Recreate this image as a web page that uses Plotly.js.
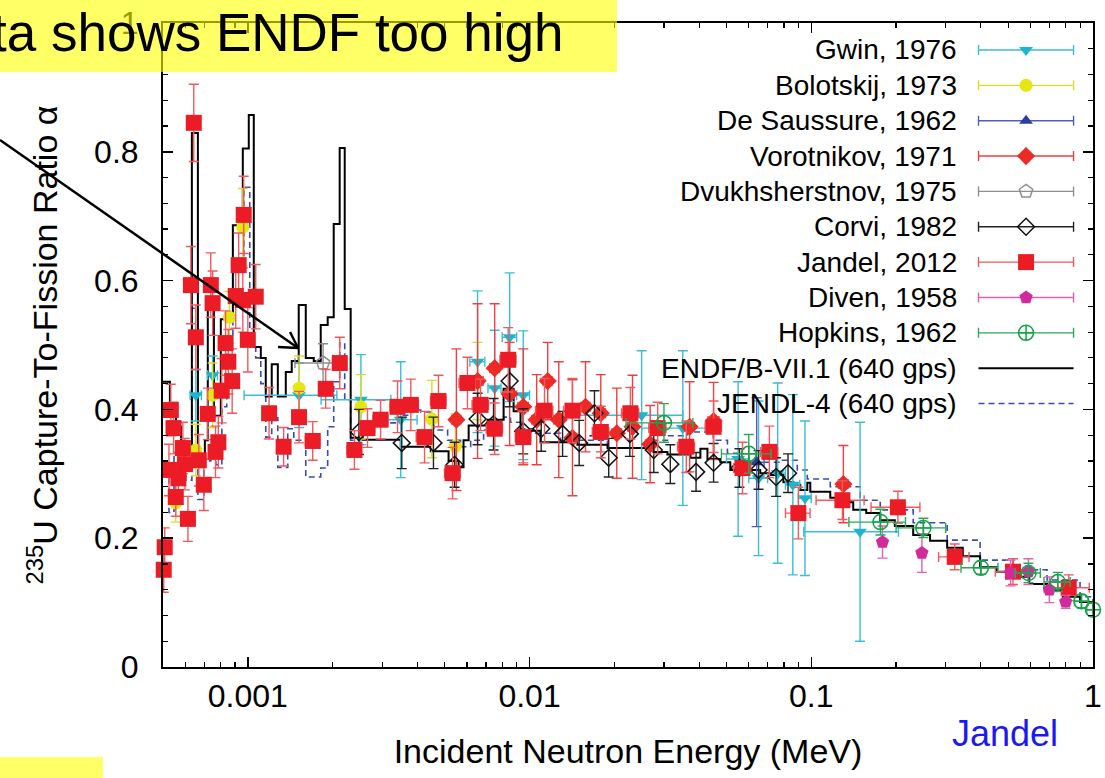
<!DOCTYPE html>
<html>
<head>
<meta charset="utf-8">
<script src="https://cdn.plot.ly/plotly-3.0.1.min.js"></script>
<style>html,body{margin:0;padding:0;background:#fff;}#chart{width:1105px;height:778px;}</style>
</head>
<body>
<div id="chart"></div>
<script>
// ---------- data (energy in MeV, capture-to-fission ratio alpha) ----------
const legendNames = ["Gwin, 1976","Bolotskij, 1973","De Saussure, 1962","Vorotnikov, 1971","Dvukhsherstnov, 1975","Corvi, 1982","Jandel, 2012","Diven, 1958","Hopkins, 1962","ENDF/B-VII.1 (640 gps)","JENDL-4 (640 gps)"];
const xTickVals = [0.001, 0.01, 0.1, 1];
const xTickText = ["0.001", "0.01", "0.1", "1"];
const xMinorVals = [6e-4,7e-4,8e-4,9e-4,2e-3,3e-3,4e-3,5e-3,6e-3,7e-3,8e-3,9e-3,0.02,0.03,0.04,0.05,0.06,0.07,0.08,0.09,0.2,0.3,0.4,0.5,0.6,0.7,0.8,0.9];

const endfE = [5.0e-4,5.29e-4,5.56e-4,5.79e-4,6.08e-4,6.33e-4,6.65e-4,7.04e-4,7.21e-4,7.58e-4,8.02e-4,8.35e-4,8.85e-4,9.60e-4,1.008e-3,1.050e-3,1.112e-3,1.158e-3,1.216e-3,1.278e-3,1.364e-3,1.432e-3,1.516e-3,1.606e-3,1.714e-3,1.815e-3,1.921e-3,2.018e-3,2.119e-3,2.208e-3,2.318e-3,2.557e-3,3.49e-3,4.46e-3,5.16e-3,5.60e-3,5.83e-3,6.08e-3,7.10e-3,8.09e-3,8.78e-3,9.29e-3,1.094e-2,1.479e-2,1.891e-2,2.753e-2,3.086e-2,3.724e-2,4.04e-2,4.28e-2,4.76e-2,5.16e-2,6.59e-2,7.15e-2,7.96e-2,8.64e-2,9.14e-2,9.68e-2,9.92e-2,0.1168,0.1267,0.1409,0.1567,0.1757,0.198,0.2300,0.264,0.3036,0.345,0.3975,0.456,0.5204,0.594,0.6869,0.781,0.8994,1.0];
const endfA = [0.443,0.399,0.373,0.349,0.334,0.829,0.320,0.352,0.560,0.390,0.540,0.550,0.686,0.805,0.857,0.497,0.480,0.420,0.470,0.420,0.458,0.475,0.562,0.480,0.475,0.531,0.543,0.688,0.806,0.556,0.356,0.353,0.342,0.335,0.320,0.310,0.352,0.375,0.384,0.432,0.397,0.367,0.349,0.345,0.340,0.334,0.330,0.325,0.339,0.323,0.318,0.306,0.301,0.298,0.287,0.283,0.275,0.286,0.272,0.263,0.256,0.244,0.239,0.228,0.219,0.205,0.196,0.185,0.172,0.155,0.148,0.140,0.129,0.120,0.109,0.101,0.093];

const jendlE = [5.0e-4,5.25e-4,5.47e-4,5.69e-4,6.03e-4,6.33e-4,6.65e-4,6.98e-4,7.39e-4,7.70e-4,8.09e-4,8.42e-4,8.85e-4,9.68e-4,1.016e-3,1.067e-3,1.112e-3,1.158e-3,1.216e-3,1.278e-3,1.386e-3,1.456e-3,1.606e-3,1.815e-3,1.921e-3,2.018e-3,2.119e-3,2.208e-3,2.318e-3,2.475e-3,2.798e-3,3.40e-3,3.78e-3,4.11e-3,4.57e-3,5.12e-3,5.69e-3,6.18e-3,6.87e-3,7.70e-3,8.09e-3,8.56e-3,9.29e-3,1.033e-2,1.288e-2,1.891e-2,2.476e-2,2.753e-2,3.086e-2,3.634e-2,4.28e-2,4.49e-2,5.04e-2,5.47e-2,6.23e-2,7.76e-2,8.92e-2,9.68e-2,0.1168,0.1492,0.1757,0.2300,0.3036,0.3975,0.5204,0.6869,0.8994,1.0];
const jendlA = [0.30,0.24,0.33,0.30,0.29,0.557,0.26,0.32,0.33,0.314,0.404,0.51,0.62,0.745,0.497,0.48,0.44,0.357,0.387,0.31,0.37,0.352,0.295,0.309,0.373,0.443,0.503,0.415,0.352,0.36,0.379,0.391,0.399,0.396,0.368,0.352,0.342,0.352,0.368,0.38,0.388,0.38,0.37,0.363,0.352,0.34,0.34,0.352,0.359,0.365,0.363,0.352,0.332,0.318,0.318,0.321,0.306,0.292,0.28,0.259,0.244,0.224,0.197,0.166,0.151,0.135,0.109,0.101];

const gwinE = [6.54e-4,7.5e-4,1.52e-3,2.52e-3,3.49e-3,6.54e-3,7.52e-3,8.5e-3,9.5e-3,2.5e-2,3.5e-2,5.5e-2,6.5e-2,7.6e-2,8.6e-2,9.5e-2,0.149];
const gwinA = [0.422,0.453,0.422,0.415,0.384,0.474,0.433,0.512,0.422,0.391,0.371,0.323,0.293,0.301,0.283,0.262,0.210];
const gwinErrA = [0.04,0.03,0.05,0.07,0.09,0.11,0.09,0.10,0.10,0.10,0.12,0.12,0.12,0.14,0.14,0.12,0.17];
const gwinErrE = [3e-5,3e-5,5.5e-4,7e-4,5e-4,4e-4,4e-4,5e-4,5e-4,1e-2,1e-2,5e-3,5e-3,5e-3,5e-3,5e-3,0.055];

const bolE = [5.55e-4,6.54e-4,7.5e-4,8.6e-4,9.6e-4,1.52e-3,2.52e-3,4.5e-3,5.46e-3,6.54e-3];
const bolA = [0.255,0.337,0.422,0.543,0.683,0.433,0.404,0.385,0.343,0.444];
const bolErrA = [0.03,0.04,0.05,0.04,0.06,0.05,0.05,0.06,0.05,0.06];

const desE = [6.4e-2];
const desA = [0.318];
const desErrA = [0.10];
const desErrE = [4e-3];

const vorE = [5.5e-3,6.54e-3,7.52e-3,8.5e-3,9.5e-3,1.06e-2,1.16e-2,1.27e-2,1.42e-2,1.58e-2,1.79e-2,2.04e-2,2.32e-2,2.68e-2,3.7e-2,4.5e-2,0.130];
const vorA = [0.384,0.444,0.464,0.424,0.404,0.384,0.444,0.384,0.356,0.404,0.394,0.363,0.373,0.346,0.373,0.382,0.284];
const vorErrA = [0.11,0.12,0.10,0.08,0.09,0.07,0.06,0.09,0.09,0.07,0.06,0.07,0.08,0.06,0.07,0.06,0.06];
const vorErrE = [2e-4,3e-4,3e-4,3e-4,4e-4,4e-4,4e-4,5e-4,5e-4,6e-4,7e-4,8e-4,9e-4,1e-3,1.5e-3,2e-3,5e-3];

const dvuE = [1.85e-3];
const dvuA = [0.472];
const dvuErrA = [0.03];
const dvuErrE = [3.8e-4];

const corE = [2.48e-3,3.52e-3,4.56e-3,5.42e-3,6.54e-3,7.45e-3,8.5e-3,9.5e-3,1.10e-2,1.31e-2,1.50e-2,1.70e-2,1.91e-2,2.27e-2,2.76e-2,3.16e-2,3.9e-2,4.5e-2,5.56e-2,6.5e-2,7.5e-2,8.27e-2];
const corA = [0.365,0.348,0.348,0.314,0.385,0.377,0.444,0.366,0.370,0.362,0.348,0.394,0.325,0.362,0.337,0.315,0.303,0.317,0.309,0.306,0.295,0.301];
const corErrA = [0.035,0.04,0.04,0.035,0.04,0.04,0.04,0.035,0.035,0.035,0.035,0.035,0.03,0.035,0.035,0.03,0.03,0.03,0.03,0.03,0.03,0.03];

const janE = [5.03e-4,5.07e-4,5.25e-4,5.33e-4,5.45e-4,5.55e-4,5.67e-4,5.88e-4,5.98e-4,6.13e-4,6.28e-4,6.43e-4,6.54e-4,6.70e-4,6.98e-4,7.21e-4,7.39e-4,7.50e-4,7.68e-4,7.86e-4,8.08e-4,8.34e-4,8.53e-4,8.80e-4,9.06e-4,9.28e-4,9.67e-4,1.00e-3,9.60e-4,1.067e-3,1.19e-3,1.34e-3,1.52e-3,1.70e-3,1.89e-3,2.12e-3,2.39e-3,2.66e-3,2.96e-3,3.40e-3,3.79e-3,4.24e-3,4.75e-3,5.33e-3,6.02e-3,6.70e-3,7.52e-3,8.40e-3,9.50e-3,1.13e-2,1.42e-2,1.79e-2,2.28e-2,2.85e-2,3.60e-2,4.50e-2,5.70e-2,7.10e-2,9.00e-2,0.129,0.203,0.323,0.52,0.82];
const janA = [0.151,0.186,0.306,0.399,0.371,0.264,0.293,0.340,0.315,0.230,0.593,0.845,0.512,0.321,0.283,0.393,0.593,0.565,0.334,0.349,0.429,0.503,0.474,0.444,0.576,0.624,0.702,0.508,0.570,0.575,0.394,0.342,0.388,0.351,0.432,0.472,0.337,0.371,0.384,0.404,0.407,0.357,0.413,0.301,0.441,0.407,0.370,0.477,0.357,0.398,0.398,0.365,0.394,0.371,0.342,0.373,0.309,0.334,0.239,0.259,0.248,0.171,0.148,0.123];
const janErrA = [0.035,0.03,0.04,0.04,0.04,0.03,0.04,0.04,0.04,0.035,0.06,0.06,0.05,0.04,0.04,0.04,0.05,0.05,0.04,0.04,0.05,0.05,0.05,0.05,0.05,0.05,0.06,0.05,0.05,0.05,0.04,0.03,0.04,0.03,0.03,0.04,0.03,0.03,0.03,0.04,0.04,0.04,0.04,0.04,0.04,0.04,0.04,0.05,0.04,0.05,0.05,0.04,0.04,0.04,0.04,0.04,0.04,0.04,0.04,0.03,0.025,0.02,0.02,0.02];
const janErrE = [2e-5,2e-5,2e-5,2e-5,2e-5,2e-5,2e-5,2e-5,2e-5,2e-5,2e-5,2e-5,2e-5,2.5e-5,2.5e-5,2.5e-5,2.5e-5,2.5e-5,3e-5,3e-5,3e-5,3e-5,3e-5,3e-5,3e-5,3e-5,3.5e-5,3.5e-5,3.5e-5,5e-5,6e-5,7e-5,8e-5,1e-4,1e-4,1.2e-4,1.4e-4,1.6e-4,1.8e-4,2e-4,2.4e-4,2.8e-4,3e-4,3.4e-4,4e-4,4.5e-4,5e-4,5.5e-4,6e-4,8e-4,1e-3,1.2e-3,1.6e-3,2e-3,2.5e-3,3e-3,4e-3,5e-3,9e-3,2.5e-2,4e-2,4e-2,7e-2,0.15];

const divE = [0.179,0.247,0.51,0.59,0.70,0.80];
const divA = [0.194,0.177,0.146,0.148,0.120,0.101];
const divErrA = [0.025,0.03,0.02,0.02,0.02,0.01];

const hopE = [3.0e-2,6.0e-2,0.176,0.25,0.40,0.59,0.75,0.91,1.0];
const hopA = [0.379,0.331,0.225,0.216,0.154,0.146,0.132,0.102,0.089];
const hopErrA = [0.03,0.03,0.02,0.015,0.01,0.015,0.015,0.01,0.01];
const hopErrE = [8e-3,1.2e-2,0.04,0.05,0.06,0.06,0.08,0.05,0.05];

// ---------- styles ----------
const FONT = "Liberation Sans, Arial, Helvetica, sans-serif";
const styles = [
  {sym:"triangle-down", size:12, color:"#1fb4cc", err:"#3dbdd2"},
  {sym:"circle", size:13, color:"#e6e614", err:"#d9dc2a"},
  {sym:"triangle-up", size:12, color:"#2c3e9c", err:"#4f5fb3"},
  {sym:"diamond", size:14, color:"#ec2a26", err:"#ee4040"},
  {sym:"pentagon-open", size:14, color:"#8e8e8e", err:"#8e8e8e"},
  {sym:"diamond-open", size:13, color:"#111111", err:"#222222"},
  {sym:"square", size:16, color:"#ec1c26", err:"#f05a5e"},
  {sym:"pentagon", size:14, color:"#d22a9a", err:"#e060b4"},
  {sym:"circle-cross-open", size:15, color:"#17a24a", err:"#2aaa58"}
];

function dataTrace(i, E, A, errA, errE) {
  const s = styles[i];
  const t = {
    type:"scatter", mode:"markers", x:E, y:A, cliponaxis:false, showlegend:false, hoverinfo:"skip",
    marker:{symbol:s.sym, size:s.size, color:s.color, line:{width: s.sym.indexOf("open")>=0 ? 1.5 : 0, color:s.color}},
    error_y:{type:"data", array:errA, color:s.err, thickness:1.4, width:5}
  };
  if (errE) t.error_x = {type:"data", array:errE, color:s.err, thickness:1.4, width:5};
  return t;
}

const traces = [
  {type:"scatter", mode:"lines", x:jendlE, y:jendlA, line:{shape:"hv", color:"#3a4bb0", width:1.6, dash:"6px,4px"}, showlegend:false, hoverinfo:"skip"},
  {type:"scatter", mode:"lines", x:endfE, y:endfA, line:{shape:"hv", color:"#000000", width:2}, showlegend:false, hoverinfo:"skip"},
  dataTrace(0, gwinE, gwinA, gwinErrA, gwinErrE),
  dataTrace(1, bolE, bolA, bolErrA, null),
  dataTrace(2, desE, desA, desErrA, desErrE),
  dataTrace(3, vorE, vorA, vorErrA, vorErrE),
  dataTrace(4, dvuE, dvuA, dvuErrA, dvuErrE),
  dataTrace(5, corE, corA, corErrA, null),
  dataTrace(6, janE, janA, janErrA, janErrE),
  dataTrace(7, divE, divA, divErrA, null),
  dataTrace(8, hopE, hopA, hopErrA, hopErrE)
];

// ---------- custom legend (symbol to the right of the text) ----------
const legTop = 0.9581, legStep = 0.0549, legTextX = 0.8559, legSymX = 0.9280, legHalf = 0.0511;
const annotations = [];
const shapes = [];
legendNames.forEach((nm, i) => {
  const yy = legTop - i * legStep;
  annotations.push({xref:"paper", yref:"paper", x:legTextX, y:yy, xanchor:"right", yanchor:"middle", text:nm, showarrow:false, font:{family:FONT, size:28, color:"#000"}});
  if (i < styles.length) {
    const s = styles[i];
    traces.push({type:"scatter", mode:"markers", xaxis:"x2", yaxis:"y2", x:[legSymX], y:[yy], showlegend:false, hoverinfo:"skip", cliponaxis:false,
      marker:{symbol:s.sym, size:s.size, color:s.color, line:{width: s.sym.indexOf("open")>=0 ? 1.5 : 0, color:s.color}},
      error_x:{type:"data", array:[legHalf], color:s.err, thickness:1.4, width:5}});
  } else {
    shapes.push({type:"line", xref:"paper", yref:"paper", x0:legSymX-legHalf, x1:legSymX+legHalf, y0:yy, y1:yy,
      line: i === 9 ? {color:"#000", width:2} : {color:"#3a4bb0", width:1.6, dash:"6px,4px"}});
  }
});

// arrow "ENDF too high"
shapes.push({type:"line", xref:"paper", yref:"paper", x0:-0.1753, y0:0.8183, x1:0.1452, y1:0.4953, line:{color:"#000", width:2.5}, layer:"above"});
shapes.push({type:"line", xref:"paper", yref:"paper", x0:0.1237, y0:0.4969, x1:0.1452, y1:0.4953, line:{color:"#000", width:2.5}, layer:"above"});
shapes.push({type:"line", xref:"paper", yref:"paper", x0:0.1366, y0:0.5202, x1:0.1452, y1:0.4953, line:{color:"#000", width:2.5}, layer:"above"});
// yellow highlight boxes
shapes.push({type:"rect", xref:"paper", yref:"paper", x0:-0.1753, x1:0.4882, y0:0.924, y1:1.04, fillcolor:"rgba(255,255,0,0.6)", line:{width:0}, layer:"above"});
shapes.push({type:"rect", xref:"paper", yref:"paper", x0:-0.1753, x1:-0.0645, y0:-0.18, y1:-0.1398, fillcolor:"rgba(255,255,0,0.6)", line:{width:0}, layer:"above"});

annotations.push({xref:"paper", yref:"paper", x:0.4323, y:0.9845, xanchor:"right", yanchor:"middle", text:"ta shows ENDF too high", showarrow:false, font:{family:FONT, size:53, color:"#000"}});
annotations.push({xref:"paper", yref:"paper", x:0.9054, y:-0.1025, xanchor:"center", yanchor:"middle", text:"Jandel", showarrow:false, font:{family:FONT, size:36, color:"#1a1af0"}});

const layout = {
  width:1105, height:778,
  margin:{l:163, r:12, t:23, b:111},
  paper_bgcolor:"#fff", plot_bgcolor:"#fff",
  font:{family:FONT, color:"#000"},
  showlegend:false,
  xaxis:{type:"log", range:[Math.log10(5e-4), 0], tickmode:"array", tickvals:xTickVals, ticktext:xTickText,
    ticks:"inside", ticklen:10, tickwidth:1.5, tickcolor:"#000", showline:true, linecolor:"#000", linewidth:2, mirror:"ticks",
    showgrid:false, zeroline:false, tickfont:{family:FONT, size:32}, ticklabelstandoff:0,
    minor:{tickmode:"array", tickvals:xMinorVals, ticks:"inside", ticklen:5, tickwidth:1.2, tickcolor:"#000", showgrid:false},
    title:{text:"Incident Neutron Energy (MeV)", font:{family:FONT, size:34}, standoff:26}},
  yaxis:{range:[0,1], dtick:0.2, tick0:0, ticks:"inside", ticklen:10, tickwidth:1.5, tickcolor:"#000",
    showline:true, linecolor:"#000", linewidth:2, mirror:"ticks", showgrid:false, zeroline:false,
    tickfont:{family:FONT, size:32}, ticklabelstandoff:16,
    minor:{dtick:0.04, ticks:"inside", ticklen:5, tickwidth:1.2, tickcolor:"#000", showgrid:false},
    title:{text:"<sup>235</sup>U Capture-To-Fission Ratio α", font:{family:FONT, size:34}, standoff:26}},
  xaxis2:{overlaying:"x", range:[0,1], visible:false, fixedrange:true},
  yaxis2:{overlaying:"y", range:[0,1], visible:false, fixedrange:true},
  shapes:shapes,
  annotations:annotations
};

Plotly.newPlot("chart", traces, layout, {displayModeBar:false, staticPlot:true});
</script>
</body>
</html>
